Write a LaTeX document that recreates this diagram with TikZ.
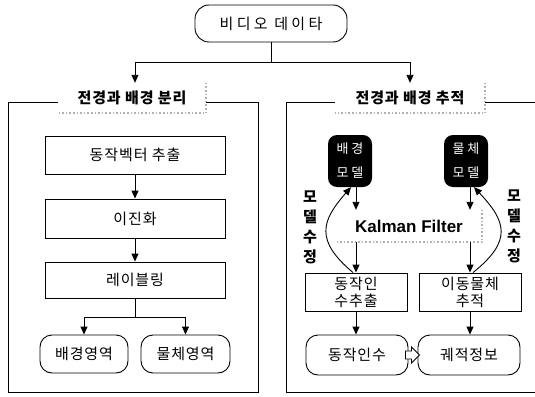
\documentclass[tikz,border=0pt]{standalone}
\usepackage{fontspec}
\newfontfamily\kr[LetterSpace=6]{Noto Sans CJK KR}
\newfontfamily\krw[LetterSpace=22]{Noto Sans CJK KR}
\newfontfamily\lib{Liberation Sans}
\usetikzlibrary{arrows.meta,calc}
\tikzset{
 line/.style={line width=0.9pt},
 arr/.style={line width=0.9pt, -{Triangle[length=8pt,width=7pt]}},
 pbox/.style={draw, line width=0.9pt, fill=white, inner sep=0pt, align=center, font=\kr\fontsize{15}{17}\selectfont},
 rbox/.style={pbox, rounded corners=12pt},
 ttl/.style={fill=white, inner sep=0pt, minimum width=148pt, minimum height=30pt, font=\kr\bfseries\fontsize{15}{17}\selectfont},
 shade/.style={draw=gray!60, line width=1.6pt, dotted},
 dark/.style={fill=black, rounded corners=9pt, text=white, inner sep=0pt, align=center, minimum width=44pt, minimum height=52pt, font=\krw\fontsize{13}{24}\selectfont},
 vlab/.style={align=center, inner sep=0pt, font=\kr\bfseries\fontsize{15}{20}\selectfont},
 frame/.style={draw, line width=0.9pt, inner sep=0pt},
}
\begin{document}
\begin{tikzpicture}[x=1pt,y=-1pt]
\useasboundingbox (0,0) rectangle (535,396);
% top
\node[rbox, rounded corners=14pt, minimum width=152pt, minimum height=37pt, font=\krw\fontsize{15}{17}\selectfont] (video) at (271,23.5) {비디오 데이타};
% frames
\node[frame, minimum width=250pt, minimum height=290pt] (lframe) at (133,247) {};
\node[frame, minimum width=254pt, minimum height=290pt] (rframe) at (413,247) {};
% titles
\node[ttl] (ltitle) at (132,98) {전경과 배경 분리};
\node[ttl, minimum width=150pt] (rtitle) at (410,98) {전경과 배경 추적};
\draw[shade] (ltitle.north east) -- (ltitle.south east) -- (ltitle.south west);
\draw[shade] (rtitle.north east) -- (rtitle.south east) -- (rtitle.south west);
% left column
\node[pbox, minimum width=180pt, minimum height=38pt] (b1) at (135,155) {동작벡터 추출};
\node[pbox, minimum width=180pt, minimum height=39pt] (b2) at (135,218.5) {이진화};
\node[pbox, minimum width=180pt, minimum height=36pt] (b3) at (135,280) {레이블링};
\node[rbox, minimum width=88pt, minimum height=38pt] (r1) at (84,354) {배경영역};
\node[rbox, minimum width=89pt, minimum height=38pt] (r2) at (185.5,354) {물체영역};
\coordinate (split) at (271,62);
\coordinate (lsplit) at (135,317);
\draw[line] (video.south) -- (split);
\draw[arr] (split) -| (b1.north |- ltitle.north);
\draw[arr] (split) -| (rtitle.north);
\draw[arr] (b1.south) -- (b2.north);
\draw[arr] (b2.south) -- (b3.north);
\draw[line] (b3.south) -- (lsplit);
\draw[arr] (lsplit) -| (r1.north);
\draw[arr] (lsplit) -| (r2.north);
% right column
\node[dark] (m1) at (350,161) {배경\\모델};
\node[dark] (m2) at (466,161) {물체\\모델};
\node[fill=white, inner sep=0pt, minimum width=146pt, minimum height=32pt, font=\lib\bfseries\fontsize{17}{19}\selectfont] (kf) at (409,226) {Kalman Filter};
\draw[shade] (kf.north east) -- (kf.south east) -- (kf.south west);
\node[pbox, minimum width=102pt, minimum height=38pt] (e1) at (356,292) {동작인\\수추출};
\node[pbox, minimum width=102pt, minimum height=38pt] (e2) at (470,292) {이동물체\\추적};
\node[rbox, minimum width=102pt, minimum height=40pt] (o1) at (357,355) {동작인수};
\node[rbox, minimum width=102pt, minimum height=40pt] (o2) at (469,355) {궤적정보};
\draw[arr] (e1.north |- m1.south) -- (e1.north |- kf.north);
\draw[arr] (e1.north |- kf.south) -- (e1.north);
\draw[arr] (e2.north |- m2.south) -- (e2.north |- kf.north);
\draw[arr] (e2.north |- kf.south) -- (e2.north);
\draw[arr] (e1.south) -- (e1.south |- o1.north);
\draw[arr] (e2.south) -- (e2.south |- o2.north);
\draw[arr] ([xshift=-3pt]e1.north) .. controls +(-38,-32) and +(-30,34) .. ([xshift=1pt]m1.south);
\draw[arr] ([xshift=3pt]e2.north) .. controls +(40,-32) and +(32,34) .. ([xshift=8pt]m2.south);
\node[vlab] (lab1) at (310,227) {모\\델\\수\\정};
\node[vlab] (lab2) at (514,226) {모\\델\\수\\정};
% block arrow between outputs
\draw[line, fill=white] ($(o1.east)+(-3,-4)$) -- ($(o1.east)+(3,-4)$) -- ($(o1.east)+(3,-8)$) -- ($(o1.east)+(11,0)$) -- ($(o1.east)+(3,8)$) -- ($(o1.east)+(3,4)$) -- ($(o1.east)+(-3,4)$) -- cycle;
\end{tikzpicture}
\end{document}
